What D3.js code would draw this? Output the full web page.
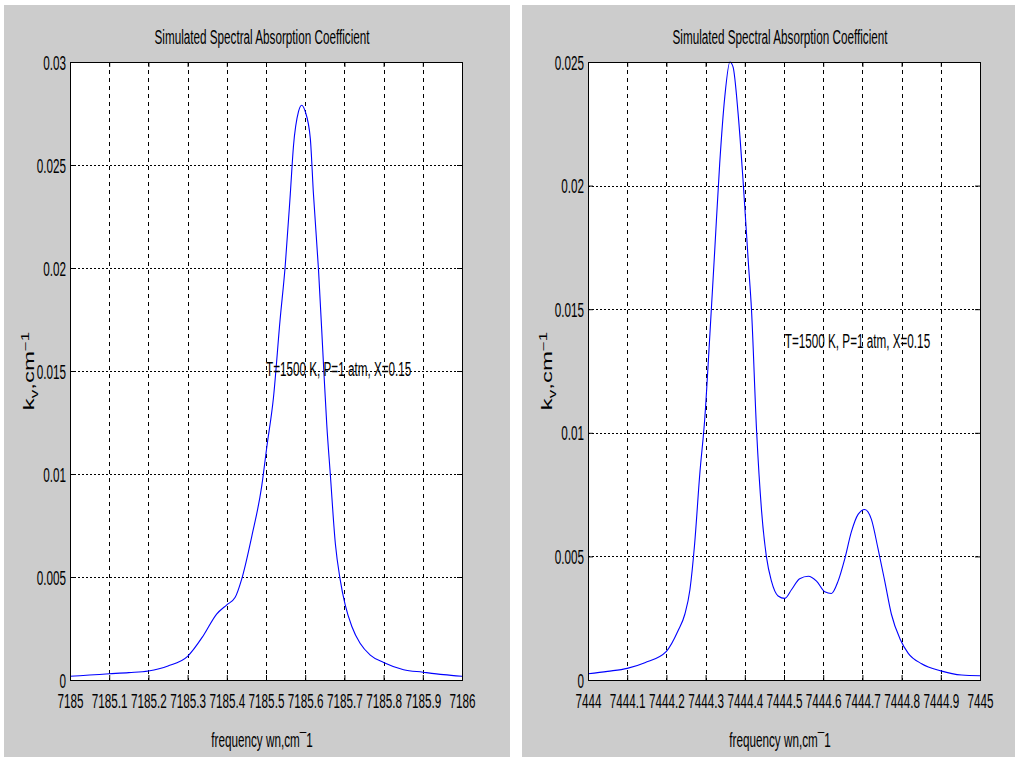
<!DOCTYPE html>
<html>
<head>
<meta charset="utf-8">
<script src="https://cdn.jsdelivr.net/npm/d3@7"></script>
<style>
  html, body { margin: 0; padding: 0; background: #ffffff; }
  svg { display: block; }
  text { font-family: "Liberation Sans", Arial, sans-serif; fill: #000; }
</style>
</head>
<body>
<svg id="chart" width="1021" height="761"></svg>
<script>
// ---------------- DATA ----------------
const chartTitle = "Simulated Spectral Absorption Coefficient";
const annotationText = "T=1500 K, P=1 atm, X=0.15";
const xLabelText = "frequency wn,cm\u00AF1";

// Left panel: 7185 - 7186 cm^-1
const leftFreq = [7185.0, 7185.05, 7185.1, 7185.15, 7185.2, 7185.25, 7185.3, 7185.34, 7185.374, 7185.4,
  7185.421, 7185.438, 7185.464, 7185.489, 7185.502, 7185.519, 7185.536, 7185.549, 7185.562, 7185.57,
  7185.583, 7185.591, 7185.6, 7185.613, 7185.621, 7185.634, 7185.647, 7185.655, 7185.664, 7185.677,
  7185.689, 7185.702, 7185.719, 7185.74, 7185.766, 7185.8, 7185.851, 7185.9, 7185.953, 7186.0];
const leftK = [0.00018, 0.00024, 0.0003, 0.00036, 0.00044, 0.00068, 0.00115, 0.00215, 0.0032, 0.00365,
  0.004, 0.0049, 0.007, 0.0094, 0.0113, 0.0137, 0.0175, 0.0201, 0.0236, 0.0259,
  0.0276, 0.0279, 0.0276, 0.0263, 0.0236, 0.0199, 0.0152, 0.0124, 0.0100, 0.0066,
  0.0049, 0.00365, 0.0026, 0.00178, 0.00121, 0.00085, 0.0005, 0.00038, 0.00026, 0.00018];
const leftXTicks = [7185, 7185.1, 7185.2, 7185.3, 7185.4, 7185.5, 7185.6, 7185.7, 7185.8, 7185.9, 7186];
const leftYTicks = [0, 0.005, 0.01, 0.015, 0.02, 0.025, 0.03];
const leftYTickLabels = ["0", "0.005", "0.01", "0.015", "0.02", "0.025", "0.03"];
const leftXDomain = [7185, 7186];
const leftYDomain = [0, 0.03];
const leftAnnotation = [7185.5, 0.0151];

// Right panel: 7444 - 7445 cm^-1
const rightFreq = [7444.0, 7444.05, 7444.1, 7444.145, 7444.2, 7444.23, 7444.247, 7444.26, 7444.272, 7444.285,
  7444.298, 7444.311, 7444.323, 7444.336, 7444.349, 7444.362, 7444.37, 7444.383, 7444.396, 7444.409,
  7444.417, 7444.43, 7444.443, 7444.455, 7444.468, 7444.485, 7444.502, 7444.519, 7444.54, 7444.562,
  7444.583, 7444.604, 7444.621, 7444.638, 7444.655, 7444.672, 7444.689, 7444.706, 7444.723, 7444.74,
  7444.757, 7444.774, 7444.796, 7444.817, 7444.851, 7444.9, 7444.953, 7445.0];
const rightK = [0.00025, 0.00035, 0.00047, 0.0007, 0.00116, 0.002, 0.00266, 0.00365, 0.0055, 0.0083,
  0.0106, 0.014, 0.0173, 0.0209, 0.0236, 0.0250, 0.0248, 0.0229, 0.0201, 0.0169,
  0.0150, 0.0101, 0.0068, 0.0050, 0.0040, 0.0034, 0.0033, 0.00365, 0.0041, 0.0042,
  0.0040, 0.00357, 0.0035, 0.0040, 0.0049, 0.0060, 0.0067, 0.0069, 0.0065, 0.0053,
  0.0040, 0.00266, 0.00166, 0.00108, 0.00066, 0.00037, 0.0002, 0.00017];
const rightXTicks = [7444, 7444.1, 7444.2, 7444.3, 7444.4, 7444.5, 7444.6, 7444.7, 7444.8, 7444.9, 7445];
const rightYTicks = [0, 0.005, 0.01, 0.015, 0.02, 0.025];
const rightYTickLabels = ["0", "0.005", "0.01", "0.015", "0.02", "0.025"];
const rightXDomain = [7444, 7445];
const rightYDomain = [0, 0.025];
const rightAnnotation = [7444.502, 0.0137];

// ---------------- DRAWING ----------------
const svg = d3.select("#chart");
const SX = 0.6; // horizontal compression of the original rendering
const FS = 19.5;

function drawPanel(opt) {
  const g = svg.append("g");
  // gray figure background
  g.append("rect")
    .attr("x", opt.panel[0]).attr("y", opt.panel[1])
    .attr("width", opt.panel[2]).attr("height", opt.panel[3])
    .attr("fill", "#cccccc");

  const x = d3.scaleLinear().domain(opt.xDomain).range([opt.px, opt.px + opt.pw]);
  const y = d3.scaleLinear().domain(opt.yDomain).range([opt.py + opt.ph, opt.py]);

  // plot area
  g.append("rect")
    .attr("x", opt.px).attr("y", opt.py)
    .attr("width", opt.pw).attr("height", opt.ph)
    .attr("fill", "#ffffff");

  // grid
  const innerX = opt.xTicks.slice(1, -1);
  const innerY = opt.yTicks.slice(1, -1);
  g.append("g").selectAll("line").data(innerX).join("line")
    .attr("x1", d => Math.round(x(d)) + 0.5).attr("x2", d => Math.round(x(d)) + 0.5)
    .attr("y1", opt.py).attr("y2", opt.py + opt.ph)
    .attr("stroke", "#000").attr("stroke-width", 1)
    .attr("stroke-dasharray", "4,4");
  g.append("g").selectAll("line").data(innerY).join("line")
    .attr("y1", d => Math.round(y(d)) + 0.5).attr("y2", d => Math.round(y(d)) + 0.5)
    .attr("x1", opt.px).attr("x2", opt.px + opt.pw)
    .attr("stroke", "#000").attr("stroke-width", 1)
    .attr("stroke-dasharray", "2,2");

  // curve
  const line = d3.line()
    .x((d, i) => x(opt.freq[i]))
    .y(d => y(d))
    .curve(d3.curveMonotoneX);
  g.append("path")
    .datum(opt.k)
    .attr("d", line)
    .attr("fill", "none")
    .attr("stroke", "#0000ff")
    .attr("stroke-width", 1.1);

  // axes (ticks inside)
  const xAxisB = d3.axisBottom(x).tickValues(opt.xTicks).tickSizeInner(-5).tickSizeOuter(0)
    .tickFormat(d => String(+d.toFixed(1)));
  const gxb = g.append("g").attr("transform", `translate(0,${opt.py + opt.ph})`).call(xAxisB);
  gxb.selectAll("text")
    .attr("y", 14)
    .attr("font-size", FS)
    .attr("transform", `scale(${SX},1)`)
    .style("font-family", '"Liberation Sans", Arial, sans-serif');

  const xAxisT = d3.axisTop(x).tickValues(opt.xTicks).tickSizeInner(-5).tickSizeOuter(0).tickFormat("");
  g.append("g").attr("transform", `translate(0,${opt.py})`).call(xAxisT);

  const yAxisL = d3.axisLeft(y).tickValues(opt.yTicks).tickSizeInner(-5).tickSizeOuter(0)
    .tickFormat((d, i) => opt.yTickLabels[i]);
  const gyl = g.append("g").attr("transform", `translate(${opt.px},0)`).call(yAxisL);
  gyl.selectAll("text")
    .attr("x", -4 / SX)
    .attr("dy", "0.36em")
    .attr("font-size", FS)
    .attr("transform", `scale(${SX},1)`)
    .style("font-family", '"Liberation Sans", Arial, sans-serif');

  const yAxisR = d3.axisRight(y).tickValues(opt.yTicks).tickSizeInner(-5).tickSizeOuter(0).tickFormat("");
  g.append("g").attr("transform", `translate(${opt.px + opt.pw},0)`).call(yAxisR);

  g.selectAll(".domain").remove();
  g.selectAll(".tick line").attr("stroke", "#000");

  // frame
  g.append("rect")
    .attr("x", opt.px + 0.5).attr("y", opt.py + 0.5)
    .attr("width", opt.pw).attr("height", opt.ph)
    .attr("fill", "none").attr("stroke", "#000").attr("stroke-width", 1);

  const cx = opt.px + opt.pw / 2 - 4;

  // title
  g.append("text")
    .attr("transform", `translate(${cx},44) scale(${SX},1)`)
    .attr("text-anchor", "middle")
    .attr("font-size", FS)
    .text(chartTitle);

  // x label
  g.append("text")
    .attr("transform", `translate(${cx},747) scale(${SX},1)`)
    .attr("text-anchor", "middle")
    .attr("font-size", FS)
    .text(xLabelText);

  // y label (rotated)
  const yl = g.append("text")
    .attr("transform", `translate(${opt.px - 36},${opt.py + opt.ph / 2}) rotate(-90) scale(1,${SX})`)
    .attr("text-anchor", "middle")
    .attr("font-size", 24);
  yl.append("tspan").text("k");
  yl.append("tspan").attr("font-size", 17).attr("dy", 6).text("v");
  yl.append("tspan").attr("dy", -6).text(",cm");
  yl.append("tspan").attr("font-size", 17).attr("dy", -9).text("\u22121");

  // annotation
  g.append("text")
    .attr("transform", `translate(${x(opt.annot[0])},${y(opt.annot[1])}) scale(${SX},1)`)
    .attr("dy", "0.35em")
    .attr("font-size", FS)
    .text(annotationText);
}

drawPanel({
  panel: [4, 5, 506, 752],
  px: 70, py: 62, pw: 392, ph: 618,
  xDomain: leftXDomain, yDomain: leftYDomain,
  xTicks: leftXTicks, yTicks: leftYTicks, yTickLabels: leftYTickLabels,
  freq: leftFreq, k: leftK, annot: leftAnnotation
});

drawPanel({
  panel: [522, 5, 493, 752],
  px: 588, py: 62, pw: 392, ph: 618,
  xDomain: rightXDomain, yDomain: rightYDomain,
  xTicks: rightXTicks, yTicks: rightYTicks, yTickLabels: rightYTickLabels,
  freq: rightFreq, k: rightK, annot: rightAnnotation
});
</script>
</body>
</html>
